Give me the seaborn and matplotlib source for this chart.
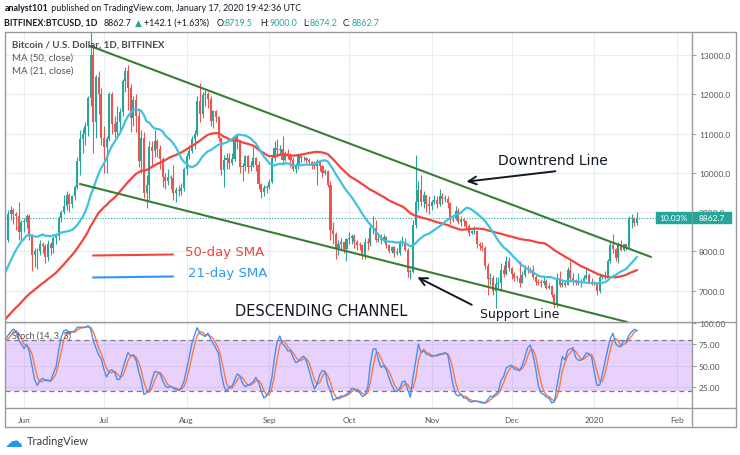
import matplotlib
matplotlib.use("Agg")
import numpy as np
import pandas as pd
import seaborn as sns
import matplotlib.pyplot as plt
import matplotlib.dates as mdates
from matplotlib.lines import Line2D
from matplotlib.patches import Rectangle

# Daily closes, BITFINEX BTCUSD, 2019-04-01 .. 2020-01-17 (one line per month)
closes = [
    4180, 4950, 5030, 4980, 5090, 5120, 5290, 5360, 5260, 5400, 5120, 5150, 5160, 5240, 5110, 5290, 5350, 5380, 5370, 5420, 5380, 5540, 5660, 5560, 5360, 5460, 5450, 5460, 5420, 5540,
    5560, 5660, 5930, 5960, 5950, 5900, 5960, 6140, 6300, 6500, 7350, 7150, 8000, 8200, 8500, 8150, 7600, 7550, 8500, 8300, 8250, 7950, 8150, 8250, 8300, 8950, 9050, 8950, 8900, 8500, 8750,
    8750, 8900, 8400, 7900, 8000, 8000, 8200, 8150, 7850, 8200, 8100, 8350, 8400, 8850, 9000, 9150, 9450, 9200, 9400, 9650, 10300, 10850, 11000, 11200, 11900, 13000, 11300, 12450, 12000, 10900,
    10650, 10850, 12000, 11250, 11050, 11300, 11550, 12350, 12600, 12150, 11400, 11850, 11450, 10300, 10900, 9500, 9700, 10650, 10550, 10800, 10600, 10350, 9900, 9800, 9900, 9880, 9500, 9560, 9550, 9620, 10100,
    10430, 10550, 10850, 11000, 11830, 11500, 11970, 12000, 11880, 11310, 11570, 11420, 10880, 10070, 10320, 10380, 10250, 10360, 10920, 10780, 10150, 10170, 10420, 10150, 10170, 10380, 10200, 9730, 9510, 9610, 9640,
    9780, 10380, 10640, 10590, 10600, 10340, 10500, 10450, 10340, 10110, 10170, 10430, 10370, 10370, 10320, 10270, 10200, 10170, 10290, 10180, 9990, 10050, 9700, 8540, 8440, 8080, 8200, 8230, 8070, 8320,
    8340, 8400, 8250, 8170, 8160, 7880, 8230, 8210, 8600, 8600, 8280, 8320, 8300, 8380, 8170, 8010, 8110, 7960, 7970, 8240, 8240, 8040, 7480, 7480, 8680, 9270, 9560, 9260, 9440, 9210, 9160,
    9260, 9320, 9210, 9410, 9330, 9340, 9230, 8810, 8830, 9040, 8740, 8820, 8770, 8650, 8480, 8510, 8510, 8180, 8130, 8090, 7630, 7300, 7330, 6990, 7170, 7190, 7530, 7440, 7770, 7580,
    7430, 7320, 7330, 7210, 7410, 7560, 7520, 7530, 7350, 7230, 7210, 7200, 7260, 7080, 7120, 6890, 6630, 7290, 7160, 7200, 7160, 7530, 7330, 7260, 7210, 7210, 7260, 7330, 7400, 7230, 7210,
    7210, 6990, 7350, 7370, 7370, 7770, 8160, 8060, 7830, 8200, 8030, 8190, 8120, 8820, 8830, 8720.6, 8862.7,
]

# Daily highs / lows, 2019-05-01 .. 2020-01-17
highs = [
    5620, 5720, 6000, 6050, 6020, 5990, 6050, 6200, 6380, 6560, 7500, 7550, 8100, 8350, 8600, 8650, 8300, 7700, 8550, 8550, 8400, 8300, 8200, 8400, 8450, 9050, 9150, 9100, 9000, 9250, 8800,
    8850, 8950, 8950, 8450, 8100, 8100, 8300, 8250, 8200, 8300, 8250, 8400, 8450, 8900, 9050, 9450, 9550, 9500, 9450, 9700, 10400, 11100, 11150, 11300, 11950, 13850, 13200, 12500, 12600, 12150,
    11200, 10950, 12050, 12050, 11450, 11700, 11650, 12400, 12700, 12750, 12250, 11950, 12000, 11650, 11100, 11050, 9950, 10800, 10800, 11100, 10850, 10700, 10400, 10000, 10100, 9950, 10200, 9650, 9700, 9750, 10150,
    10500, 10700, 10950, 11100, 11950, 12300, 12050, 12100, 12050, 11950, 11600, 11600, 11450, 10900, 10450, 10500, 10500, 10500, 10950, 10980, 10800, 10250, 10450, 10450, 10300, 10650, 10400, 10300, 9750, 9700, 9700,
    9850, 10450, 10800, 10850, 10700, 10950, 10550, 10600, 10500, 10400, 10250, 10480, 10450, 10420, 10400, 10380, 10300, 10300, 10350, 10300, 10200, 10100, 10080, 9800, 8750, 8500, 8300, 8350, 8250, 8350,
    8500, 8450, 8450, 8300, 8250, 8200, 8350, 8350, 8700, 8900, 8800, 8450, 8450, 8450, 8400, 8200, 8150, 8150, 8100, 8300, 8400, 8350, 8100, 7550, 8800, 10450, 9800, 9950, 9550, 9450, 9400,
    9300, 9450, 9400, 9600, 9480, 9450, 9400, 9250, 8900, 9150, 9100, 8900, 8850, 8800, 8700, 8550, 8650, 8550, 8250, 8250, 8150, 7700, 7450, 7400, 7350, 7350, 7700, 7650, 7880, 7850,
    7600, 7480, 7400, 7750, 7500, 7650, 7650, 7600, 7650, 7400, 7300, 7300, 7350, 7300, 7200, 7150, 6950, 7450, 7500, 7250, 7250, 7600, 7750, 7450, 7300, 7450, 7300, 7400, 7550, 7450, 7320,
    7260, 7230, 7450, 7420, 7500, 7800, 8250, 8450, 8100, 8250, 8300, 8200, 8200, 8900, 8950, 8880, 9000,
]
lows = [
    5500, 5540, 5640, 5800, 5830, 5820, 5850, 5900, 6100, 6250, 6450, 6900, 7100, 7700, 7850, 7900, 7250, 7200, 7500, 7700, 7850, 7800, 7600, 7900, 8050, 8250, 8800, 8700, 8550, 8300, 8300,
    8500, 8600, 8300, 7500, 7600, 7550, 7900, 7950, 7700, 7750, 7900, 7950, 8200, 8300, 8750, 8950, 9050, 9000, 9100, 9300, 9600, 9950, 10500, 10700, 10950, 11700, 10500, 10900, 11500, 10700,
    10000, 10000, 10800, 11000, 10900, 10950, 11100, 11450, 12050, 11600, 11050, 11200, 11050, 10150, 10000, 9350, 9100, 9300, 10200, 10400, 10400, 10100, 9650, 9600, 9700, 9600, 9300, 9250, 9400, 9450, 9550,
    9950, 10350, 10500, 10600, 10950, 11300, 11400, 11700, 11650, 11200, 11150, 11300, 10800, 9950, 9650, 10100, 10100, 10200, 10300, 10600, 10000, 9800, 10050, 10000, 10050, 10150, 10050, 9600, 9350, 9400, 9500,
    9600, 9750, 10300, 10400, 10450, 10200, 10300, 10350, 10150, 10050, 10000, 10100, 10250, 10300, 10250, 10200, 10100, 10100, 9700, 10050, 9900, 9950, 9650, 8300, 8200, 7800, 7900, 8050, 7950, 7750,
    8200, 8200, 8100, 8050, 8050, 7800, 7800, 8050, 8150, 8450, 8250, 8250, 8200, 8250, 8100, 7950, 7950, 7850, 7900, 7900, 8150, 8000, 7350, 7300, 7450, 8600, 9050, 9150, 9100, 9000, 8950,
    9050, 9200, 9100, 9150, 9200, 9250, 9100, 8700, 8750, 8800, 8700, 8650, 8650, 8600, 8400, 8450, 8450, 8100, 8050, 8000, 7550, 6900, 7150, 6900, 6550, 7050, 7000, 7350, 7400, 7500,
    7300, 7250, 7250, 7100, 7200, 7350, 7450, 7450, 7300, 7150, 7150, 7100, 7150, 7050, 7050, 6850, 6550, 6600, 7100, 7100, 7100, 7150, 7250, 7150, 7150, 7150, 7100, 7250, 7300, 7200, 7150,
    7150, 6900, 6950, 7300, 7300, 7350, 7700, 7950, 7750, 7700, 8000, 8000, 8050, 8100, 8600, 8650, 8674.2,
]

month_starts = ["2019-06-01", "2019-07-01", "2019-08-01", "2019-09-01", "2019-10-01",
                "2019-11-01", "2019-12-01", "2020-01-01", "2020-02-01"]
month_labels = ["Jun", "Jul", "Aug", "Sep", "Oct", "Nov", "Dec", "2020", "Feb"]
price_ticks = [7000, 8000, 9000, 10000, 11000, 12000, 13000]
stoch_ticks = [25, 50, 75, 100]

# drawings on the chart (date, price)
upper_line_dates = ["2019-06-25 19:00", "2020-01-22 07:00"]
upper_line_prices = [13229, 7860]
lower_line_dates = ["2019-06-22", "2020-01-13 07:00"]
lower_line_prices = [9718, 6206]
sma50_key_dates = ["2019-06-26 22:00", "2019-07-26 22:00"]
sma50_key_prices = [7898, 7924]
sma21_key_prices = [7338, 7364]

UP, DOWN = "#26a69a", "#ef5350"
W, H = 740, 456

sns.set_theme(style="white")
plt.rcParams["font.family"] = ["Lato", "DejaVu Sans"]

df = pd.DataFrame({"close": closes},
                  index=pd.date_range(end="2020-01-17", periods=len(closes), freq="D"))
hl = pd.DataFrame({"high": highs, "low": lows},
                  index=pd.date_range(end="2020-01-17", periods=len(highs), freq="D"))
df = df.join(hl)
df["open"] = df["close"].shift(1)
df["sma50"] = df["close"].rolling(50).mean()
df["sma21"] = df["close"].rolling(21).mean()
lo14 = df["low"].rolling(14).min()
hi14 = df["high"].rolling(14).max()
df["k"] = (100 * (df["close"] - lo14) / (hi14 - lo14)).rolling(3).mean()
df["d"] = df["k"].rolling(3).mean()
df["x"] = mdates.date2num(df.index)
vis = df[df.index >= "2019-05-20"]


def fx(x):
    return x / W


def fy(y):
    return 1 - y / H


def dn(s):
    return mdates.date2num(pd.Timestamp(s))


fig = plt.figure(figsize=(7.4, 4.56), dpi=100)
ax = fig.add_axes([fx(5), fy(323), (692 - 5) / W, (323 - 33) / H])
ax_st = fig.add_axes([fx(5), fy(409), (692 - 5) / W, (409 - 323) / H], sharex=ax)

# candles
for part, col in [(vis[vis.close >= vis.open], UP), (vis[vis.close < vis.open], DOWN)]:
    ax.vlines(part.x, part.low, part.high, color=col, lw=0.8, zorder=3)
    ax.bar(part.x, (part.close - part.open).abs().clip(lower=20), bottom=part[["open", "close"]].min(axis=1),
           width=0.78, color=col, lw=0, zorder=3)

sns.lineplot(data=vis, x="x", y="sma50", ax=ax, color="#f2453d", lw=1.6, zorder=4)
sns.lineplot(data=vis, x="x", y="sma21", ax=ax, color="#3ec3de", lw=1.6, zorder=4)

last = df["close"].iloc[-1]
ax.axhline(last, color=UP, lw=0.8, ls=(0, (1, 1.5)), zorder=2)

# trend lines and key lines
ax.plot([dn(d) for d in upper_line_dates], upper_line_prices, color="#3a7d34", lw=1.5, zorder=5)
ax.plot([dn(d) for d in lower_line_dates], lower_line_prices, color="#3a7d34", lw=1.5, zorder=5)
ax.plot([dn(d) for d in sma50_key_dates], sma50_key_prices, color="#f2453d", lw=1.5, zorder=5)
ax.plot([dn(d) for d in sma50_key_dates], sma21_key_prices, color="#2f98f3", lw=1.5, zorder=5)

ax.text(dn("2019-07-31 10:00"), 8000, "50-day SMA", color="#f2453d", fontsize=9.5,
        family="DejaVu Sans", va="center", ha="left")
ax.text(dn("2019-08-01 12:00"), 7466, "21-day SMA", color="#2f98f3", fontsize=9.5,
        family="DejaVu Sans", va="center", ha="left")
ax.text(dn("2019-11-26"), 10330, "Downtrend Line", color="#131722", fontsize=10,
        family="DejaVu Sans", va="center", ha="left")
ax.annotate("", xy=(dn("2019-11-13"), 9770), xytext=(dn("2019-12-18 10:00"), 10050),
            arrowprops=dict(arrowstyle="->", color="#131722", lw=1.4, mutation_scale=14))
ax.text(dn("2019-12-04"), 6410, "Support Line", color="#131722", fontsize=9,
        family="DejaVu Sans", va="center", ha="center")
ax.annotate("", xy=(dn("2019-10-25 17:00"), 7377), xytext=(dn("2019-11-16 22:00"), 6613),
            arrowprops=dict(arrowstyle="->", color="#131722", lw=1.4, mutation_scale=14))
ax.text(dn("2019-08-19"), 6486, "DESCENDING CHANNEL", color="#131722", fontsize=10.5,
        family="DejaVu Sans", va="center", ha="left")

ax.set_xlim(dn("2019-06-01") - 7.13, dn("2019-06-01") + 250.66)
ax.set_ylim(6206, 13585)
ax.set_yticks(price_ticks)
ax.set_yticklabels([f"{p:.1f}" for p in price_ticks])
ax.set_xticks([dn(m) for m in month_starts])
ax.yaxis.tick_right()
ax.grid(True, color="#e6eef3", lw=0.8)
ax.set_axisbelow(True)
ax.tick_params(axis="x", labelbottom=False, length=0)
ax.tick_params(axis="y", direction="out", length=3, width=0.6, color="#888888",
               labelsize=6, labelcolor="#555555", pad=2, right=True, left=False)
ax.set_xlabel("")
ax.set_ylabel("")
for s in ax.spines.values():
    s.set_visible(False)

# stochastic panel
ax_st.axhspan(20, 80, color="#b36bf5", alpha=0.3, lw=0, zorder=1)
for lvl in (20, 80):
    ax_st.axhline(lvl, color="#787b86", lw=0.9, ls=(0, (4, 3)), zorder=2)
sns.lineplot(data=vis, x="x", y="k", ax=ax_st, color="#4a8df0", lw=1.0, zorder=4)
sns.lineplot(data=vis, x="x", y="d", ax=ax_st, color="#f47b45", lw=1.0, zorder=3)
ax_st.set_ylim(0, 101.5)
ax_st.set_yticks(stoch_ticks)
ax_st.set_yticklabels([f"{t:.2f}" for t in stoch_ticks])
ax_st.yaxis.tick_right()
ax_st.set_xticks([dn(m) for m in month_starts])
ax_st.set_xticklabels(month_labels)
ax_st.grid(True, color="#e6eef3", lw=0.8)
ax_st.set_axisbelow(True)
ax_st.tick_params(axis="y", direction="out", length=3, width=0.6, color="#888888",
                  labelsize=6, labelcolor="#555555", pad=2, right=True, left=False)
ax_st.tick_params(axis="x", direction="out", length=3, width=0.6, color="#888888",
                  labelsize=6, labelcolor="#555555", pad=3)
ax_st.set_xlabel("")
ax_st.set_ylabel("")
for s in ax_st.spines.values():
    s.set_visible(False)
ax.set_xlim(dn("2019-06-01") - 7.13, dn("2019-06-01") + 250.66)

# frame
frame_col = "#9a9a9a"
for (x0, y0, x1, y1) in [(5, 33, 736, 33), (5, 428, 736, 428), (5, 33, 5, 428), (736, 33, 736, 428),
                         (692, 33, 692, 428), (5, 323, 736, 323), (5, 409, 736, 409)]:
    fig.add_artist(Line2D([fx(x0), fx(x1)], [fy(y0), fy(y1)], color=frame_col, lw=1.0,
                          transform=fig.transFigure))

# last price boxes
for (x0, x1, txt) in [(656, 691, "10.03%"), (693, 731, f"{last:.1f}")]:
    fig.add_artist(Rectangle((fx(x0), fy(224)), (x1 - x0) / W, 11 / H, color=UP,
                             transform=fig.transFigure, zorder=10))
    fig.text(fx((x0 + x1) / 2), fy(218.5), txt, color="white", fontsize=6,
             ha="center", va="center", zorder=11)

# panel captions
fig.text(fx(12), fy(45.5), "Bitcoin / U.S. Dollar, 1D, BITFINEX", color="#4a4a4a",
         fontsize=7, fontweight="bold", va="center")
fig.text(fx(12), fy(58), "MA (50, close)", color="#555555", fontsize=7, va="center")
fig.text(fx(12), fy(71), "MA (21, close)", color="#555555", fontsize=7, va="center")
fig.text(fx(12), fy(336), "Stoch (14, 3, 3)", color="#555555", fontsize=6.5, va="center")

dark = "#131722"
head_size = 6.4
# header line 1
rend = fig.canvas.get_renderer()
t = fig.text(fx(5), fy(8.5), "analyst101", color=dark, fontsize=head_size, fontweight="bold", va="center")
x1 = 5 + t.get_window_extent(rend).width
fig.text(fx(x1), fy(8.5), " published on TradingView.com, January 17, 2020 19:42:36 UTC",
         color=dark, fontsize=head_size, va="center")

# header line 2, pieces at their positions
header2 = [(4, "BITFINEX:BTCUSD, 1D", dark, "bold"), (104, "8862.7", dark, "normal"),
           (135, "▲", UP, "normal"), (144, "+142.1 (+1.63%)", dark, "normal"),
           (217, "O:", dark, "normal"), (225, "8719.5", UP, "normal"),
           (260, "H:", dark, "normal"), (269, "9000.0", UP, "normal"),
           (303, "L:", dark, "normal"), (310, "8674.2", UP, "normal"),
           (343, "C:", dark, "normal"), (352, "8862.7", UP, "normal")]
for x0, txt, col, wt in header2:
    fig.text(fx(x0), fy(23), txt, color=col, fontsize=head_size, fontweight=wt, va="center", ha="left")

fig.text(fx(4), fy(442), "☁", color="#2196f3", fontsize=13, family="DejaVu Sans", va="center")
fig.text(fx(27), fy(442), "TradingView", color="#3a3a3a", fontsize=8, va="center")

fig.savefig("out.png", dpi=100)
